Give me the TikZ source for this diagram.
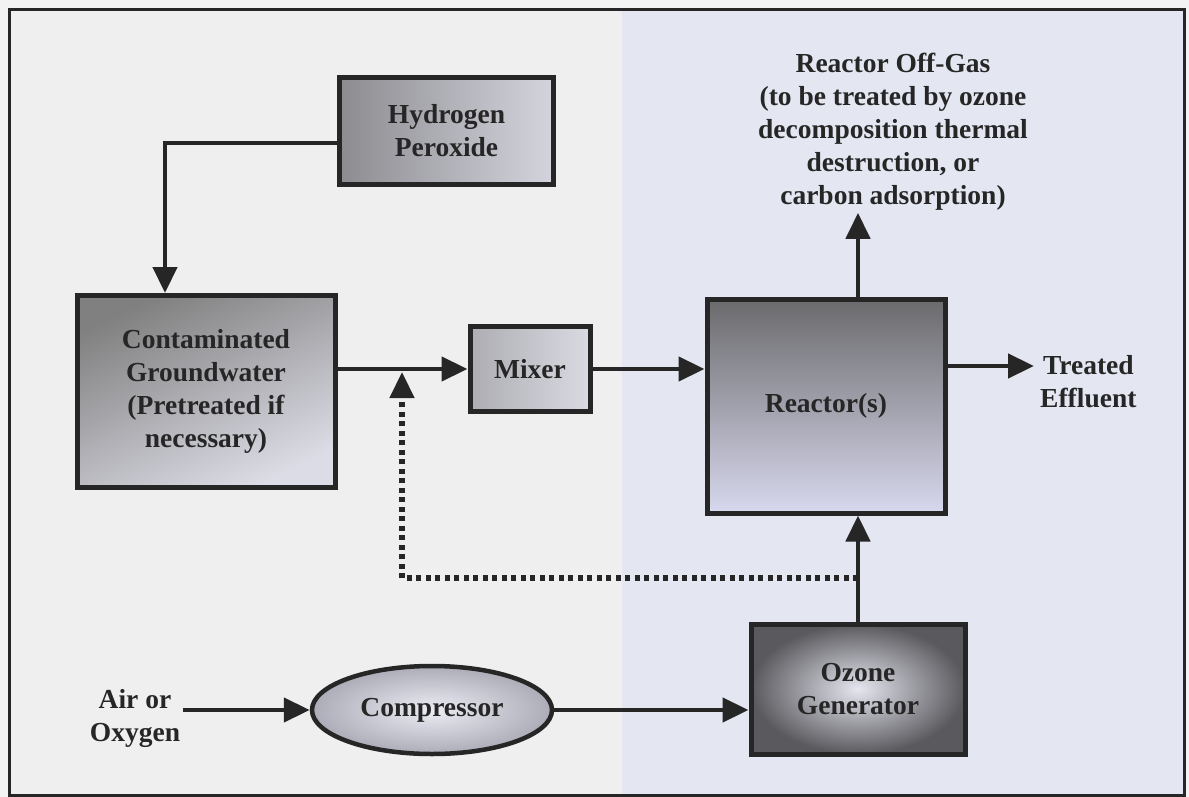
\documentclass[tikz,border=0pt]{standalone}
\usepackage{fontspec}
\setmainfont{Liberation Serif}
\usetikzlibrary{arrows.meta,shapes.geometric}
\definecolor{bdr}{HTML}{262626}
\definecolor{bgleft}{HTML}{EFEFEF}
\definecolor{bgright}{HTML}{E4E7F2}
\definecolor{bgout}{HTML}{F3F3F3}
\definecolor{hpA}{HTML}{8C8C90}
\definecolor{hpB}{HTML}{D4D4DE}
\definecolor{cgA}{HTML}{808080}
\definecolor{cgB}{HTML}{DCDCE6}
\definecolor{mxA}{HTML}{ADADB3}
\definecolor{mxB}{HTML}{DADAE2}
\definecolor{rcA}{HTML}{6A6A6C}
\definecolor{rcB}{HTML}{D8D8EE}
\definecolor{ozA}{HTML}{E6E6F0}
\definecolor{ozB}{HTML}{5A5A5E}
\definecolor{cpA}{HTML}{ECECF4}
\definecolor{cpB}{HTML}{ACACB8}
\tikzset{
  lbl/.style={font=\bfseries\fontsize{27.5}{33}\selectfont, align=center, text=black!85},
  box/.style={lbl, rectangle, draw=bdr, line width=5pt, inner sep=0pt},
  arr/.style={draw=bdr, line width=4.5pt, -{Triangle[length=26pt,width=24pt]}},
  dots/.style={draw=bdr, line width=5.5pt, dash pattern=on 5pt off 4.5pt}
}
\begin{document}
\begin{tikzpicture}[x=1pt,y=-1pt]
\useasboundingbox (0,0) rectangle (1189,797);
\fill[bgout] (0,0) rectangle (1189,797);
\fill[bgleft] (9,10) rectangle (622,795);
\fill[bgright] (622,10) rectangle (1184,795);
\draw[bdr, line width=3pt] (9,10) rectangle (1184,795);

% boxes
\node[box, minimum width=214pt, minimum height=107pt,
      left color=hpA, right color=hpB] (h2o2) at (446.5,131) {Hydrogen\\Peroxide};
\node[box, minimum width=258pt, minimum height=192pt,
      top color=cgA, bottom color=cgB, shading angle=25] (contam) at (206,391)
      {Contaminated\\Groundwater\\(Pretreated if\\necessary)};
\node[box, minimum width=120pt, minimum height=85pt,
      left color=mxA, right color=mxB] (mixer) at (530,369) {Mixer};
\node[box, minimum width=238pt, minimum height=214pt,
      top color=rcA, bottom color=rcB] (reactor) at (826,406) {Reactor(s)};
\node[box, minimum width=214pt, minimum height=130pt,
      shading=radial, inner color=ozA, outer color=ozB] (ozone) at (858,689)
      {Ozone\\Generator};
\node[lbl, ellipse, draw=bdr, line width=4.5pt, minimum width=240pt, minimum height=88pt, inner sep=0pt,
      shading=radial, inner color=cpA, outer color=cpB] (comp) at (432,710) {Compressor};

% text labels
\node[lbl, inner sep=3pt] (air) at (135,718) {Air or\\Oxygen};
\node[lbl, inner sep=2pt] (offgas) at (893,132)
  {Reactor Off-Gas\\(to be treated by ozone\\decomposition thermal\\destruction, or\\carbon adsorption)};
\node[lbl, inner sep=0pt, anchor=west] (eff) at (1040,382) {Treated\\Effluent};

% helper coordinates
\coordinate (hc) at (165,293);
\coordinate (efftip) at (1034,366);
\coordinate (d1) at (858,578);
\coordinate (d2) at (402,578);
\coordinate (d3) at (402,397);
\coordinate (d4) at (402,372);

% connectors
\draw[arr] ([yshift=-12pt]h2o2.west) -| (hc);
\draw[arr] (contam.east |- mixer.west) -- (mixer.west);
\draw[arr] (mixer.east) -- (mixer.east -| reactor.west);
\draw[arr] (reactor.east |- efftip) -- (efftip);
\draw[arr] (ozone.north |- reactor.north) -- (ozone.north |- offgas.south);
\draw[arr] (ozone.north) -- (ozone.north |- reactor.south);
\draw[dots] (d1) -- (d2) -- (d3);
\draw[arr] (d3) -- (d4);
\draw[arr] (air.east |- comp.west) -- (comp.west);
\draw[arr] (comp.east) -- (comp.east -| ozone.west);
\end{tikzpicture}
\end{document}
